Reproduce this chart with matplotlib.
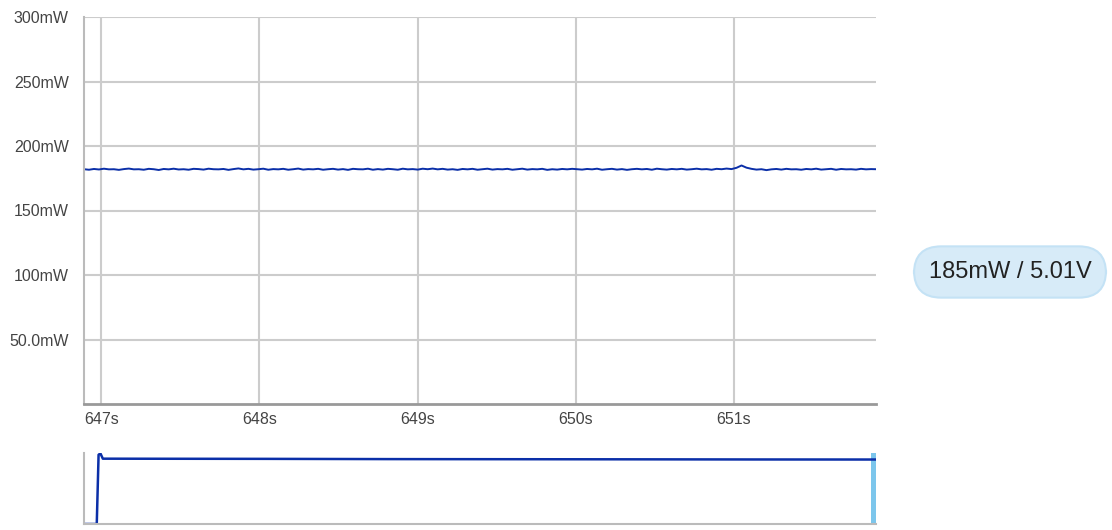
import numpy as np
import matplotlib.pyplot as plt

# main window: power samples (mW), 647 s .. 652 s
t_start, t_end = 646.89, 651.90
power_mw = [
    182.0, 181.6, 182.2, 181.8, 182.4, 181.9, 182.0, 181.5, 182.1, 182.5,
    181.9, 182.0, 181.6, 182.3, 182.0, 181.4, 182.2, 181.9, 182.4, 181.8,
    182.0, 181.6, 182.3, 182.1, 181.7, 182.4, 182.0, 181.9, 182.2, 181.5,
    182.1, 182.6, 181.9, 182.3, 181.7, 182.0, 182.4, 181.6, 182.1, 181.9,
    182.3, 181.6, 182.0, 182.5, 181.7, 182.1, 181.9, 182.3, 181.6, 182.0,
    182.3, 181.7, 182.1, 181.5, 182.3, 182.0, 181.9, 182.4, 181.6, 182.1,
    181.7, 182.3, 182.0, 181.6, 182.4, 181.9, 182.1, 181.7, 182.4, 182.0,
    182.5, 181.9, 182.3, 181.7, 182.0, 181.5, 182.2, 181.9, 182.3, 181.6,
    182.0, 182.4, 181.7, 182.1, 181.9, 182.3, 181.6, 182.0, 182.4, 181.7,
    182.1, 181.9, 182.3, 181.5, 182.0, 181.7, 182.2, 181.9, 182.3, 182.0,
    181.7, 182.2, 181.9, 182.4, 181.6, 182.0, 182.3, 181.7, 182.1, 181.5,
    182.0, 182.3, 181.9, 182.2, 181.6, 182.4, 182.0, 181.7, 182.2, 181.9,
    182.3, 181.7, 182.0, 182.4, 181.9, 182.1, 181.6, 182.3, 182.0, 182.5,
    182.1, 183.1, 184.9, 183.2, 182.3, 181.7, 182.0, 181.3, 181.9, 182.2,
    181.7, 182.3, 181.9, 182.0, 181.6, 182.2, 181.9, 182.4, 181.7, 182.0,
    182.3, 181.6, 182.2, 181.9, 182.0, 181.7, 182.3, 181.9, 182.1, 182.0,
]
t_main = np.linspace(t_start, t_end, len(power_mw))

# overview: whole recording
t_over = [0, 10.5, 12.0, 13.5, 15.5, 60, 150, 250, 350, 450, 550, 651.9]
p_over = [0, 0, 195, 199, 184, 183.8, 183.5, 182.8, 182.5, 182.2, 181.8, 181.6]

y_ticks = [50, 100, 150, 200, 250, 300]
y_labels = ['50.0mW', '100mW', '150mW', '200mW', '250mW', '300mW']
x_ticks = [647, 648, 649, 650, 651]
x_labels = ['647s', '648s', '649s', '650s', '651s']
readout = '185mW / 5.01V'

line_col = '#0b2fa8'
grid_col = '#cccccc'
text_col = '#444444'

plt.rcParams['font.family'] = ['Liberation Sans', 'DejaVu Sans']

fig = plt.figure(figsize=(11.12, 5.30), dpi=100)

ax = fig.add_axes([84 / 1112, 1 - 404 / 530, 792 / 1112, 387 / 530])
ax.plot(t_main, power_mw, color=line_col, lw=1.4)
ax.set_xlim(t_start, t_end)
ax.set_ylim(0, 300)
ax.set_yticks(y_ticks)
ax.set_yticklabels(y_labels)
ax.set_xticks(x_ticks)
ax.set_xticklabels(x_labels)
ax.grid(True, color=grid_col, lw=1.5)
ax.set_axisbelow(True)
for s in ['top', 'right']:
    ax.spines[s].set_visible(False)
ax.spines['left'].set_color('#bbbbbb')
ax.spines['left'].set_linewidth(1.5)
ax.spines['bottom'].set_color('#999999')
ax.spines['bottom'].set_linewidth(2)
ax.tick_params(length=0, labelsize=11.5, labelcolor=text_col)
ax.tick_params(axis='y', pad=11)
ax.tick_params(axis='x', pad=6)

# overview strip
ax2 = fig.add_axes([84 / 1112, 1 - 524 / 530, 792 / 1112, 71 / 530])
ax2.plot(t_over, p_over, color=line_col, lw=1.8)
ax2.axvspan(t_start + 1.0, t_end, color='#7cc6ec', lw=0)
ax2.set_xlim(0, t_end)
ax2.set_ylim(0, 200)
ax2.set_xticks([])
ax2.set_yticks([])
for s in ['top', 'right']:
    ax2.spines[s].set_visible(False)
ax2.spines['left'].set_color('#bbbbbb')
ax2.spines['bottom'].set_color('#bbbbbb')
ax2.spines['left'].set_linewidth(1.5)
ax2.spines['bottom'].set_linewidth(1.5)

# readout pill
fig.text(1010 / 1112, 1 - 272 / 530, readout, ha='center', va='center',
         fontsize=17, color='#222222',
         bbox=dict(boxstyle='round,pad=0.62,rounding_size=1.15',
                   facecolor='#d7ebf8', edgecolor='#c4e2f5', lw=1.5))

fig.savefig('out.png', dpi=100)
